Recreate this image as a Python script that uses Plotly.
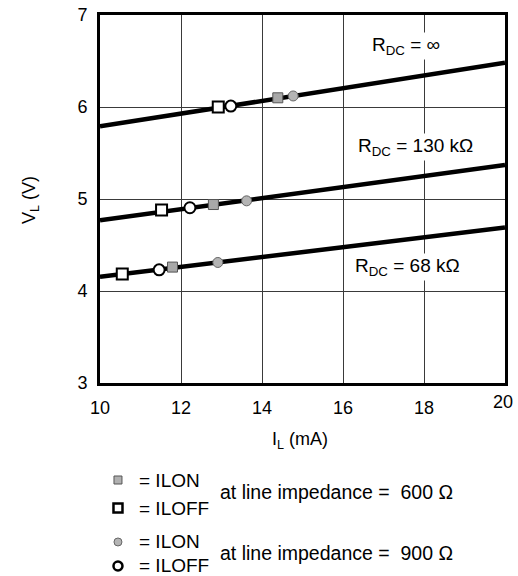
import plotly.graph_objects as go

FONT = "Arial, Liberation Sans, Helvetica, sans-serif"

# Load lines (V_L vs I_L), endpoints at I = 10 and 20 mA
line_x = [10, 20]
line_inf = [5.79, 6.48]
line_130k = [4.77, 5.37]
line_68k = [4.155, 4.69]

# Markers: ILON / ILOFF at 600 ohm (squares) and 900 ohm (circles)
inf_ilon600 = ([14.39], [6.10])
inf_iloff600 = ([12.92], [6.00])
inf_ilon900 = ([14.77], [6.12])
inf_iloff900 = ([13.23], [6.01])

k130_ilon600 = ([12.80], [4.94])
k130_iloff600 = ([11.52], [4.88])
k130_ilon900 = ([13.62], [4.98])
k130_iloff900 = ([12.22], [4.905])

k68_ilon600 = ([11.79], [4.26])
k68_iloff600 = ([10.55], [4.185])
k68_ilon900 = ([12.91], [4.31])
k68_iloff900 = ([11.46], [4.23])

x_ticks = [10, 12, 14, 16, 18, 20]
x_ticktext = ["10", "12", "14", "16", "18", ""]   # "20" drawn slightly raised, as in the original
y_ticks = [3, 4, 5, 6, 7]

fig = go.Figure()

for ys in (line_inf, line_130k, line_68k):
    fig.add_trace(go.Scatter(x=line_x, y=ys, mode="lines",
                             line=dict(color="black", width=4.5), showlegend=False))

gray_sq = dict(symbol="square", size=10, color="#a8a8a8", line=dict(color="#555555", width=1))
white_sq = dict(symbol="square", size=11, color="white", line=dict(color="black", width=2))
gray_ci = dict(symbol="circle", size=10, color="#b4b4b4", line=dict(color="#666666", width=1))
white_ci = dict(symbol="circle", size=11, color="white", line=dict(color="black", width=2))

groups = [
    (inf_iloff600, white_sq), (inf_iloff900, white_ci), (inf_ilon600, gray_sq), (inf_ilon900, gray_ci),
    (k130_iloff600, white_sq), (k130_iloff900, white_ci), (k130_ilon600, gray_sq), (k130_ilon900, gray_ci),
    (k68_iloff600, white_sq), (k68_iloff900, white_ci), (k68_ilon600, gray_sq), (k68_ilon900, gray_ci),
]
for (xs, ys), mk in groups:
    fig.add_trace(go.Scatter(x=xs, y=ys, mode="markers", marker=mk, showlegend=False))

annotations = [
    dict(x=17.55, y=6.66, xref="x", yref="y", text="R<sub>DC</sub> = ∞", showarrow=False,
         font=dict(size=19, family=FONT, color="black"), bgcolor="white"),
    dict(x=17.8, y=5.56, xref="x", yref="y", text="R<sub>DC</sub> = 130 kΩ", showarrow=False,
         font=dict(size=19, family=FONT, color="black"), bgcolor="white"),
    dict(x=17.6, y=4.26, xref="x", yref="y", text="R<sub>DC</sub> = 68 kΩ", showarrow=False,
         font=dict(size=19, family=FONT, color="black"), bgcolor="white"),
    dict(x=-0.173, y=0.497, xref="paper", yref="paper", text="V<sub>L</sub> (V)", showarrow=False,
         textangle=-90, xanchor="center", yanchor="middle",
         font=dict(size=18, family=FONT, color="black")),
    dict(x=0.494, y=-0.155, xref="paper", yref="paper", text="I<sub>L</sub> (mA)", showarrow=False,
         xanchor="center", yanchor="middle", font=dict(size=18, family=FONT, color="black")),
    dict(x=x_ticks[-1], y=y_ticks[0], xref="x", yref="y", text=str(x_ticks[-1]), showarrow=False,
         xanchor="center", yanchor="middle", xshift=-2, yshift=-19,
         font=dict(size=18, family=FONT, color="black")),
]

def txt(x, y, s, size=19, anchor="left"):
    annotations.append(dict(x=x, y=y, xref="paper", yref="paper", text=s, showarrow=False,
                            xanchor=anchor, yanchor="middle",
                            font=dict(size=size, family=FONT, color="black")))

txt(0.0914, -0.2636, "= ILON")
txt(0.0914, -0.3397, "= ILOFF")
txt(0.291, -0.2962, "at line impedance =  600 Ω", 19.5)
txt(0.0914, -0.432, "= ILON")
txt(0.0914, -0.4946, "= ILOFF")
txt(0.291, -0.462, "at line impedance =  900 Ω", 19.5)

shapes = []
def mshape(kind, yp, size, fill, lc, lw):
    h = size / 2
    shapes.append(dict(type=kind, xref="paper", yref="paper", xsizemode="pixel", ysizemode="pixel",
                       xanchor=0.0444, yanchor=yp, x0=-h, x1=h, y0=-h, y1=h,
                       fillcolor=fill, line=dict(color=lc, width=lw)))

mshape("rect", -0.2636, 8, "#b0b0b0", "#555555", 1)
mshape("rect", -0.3397, 9, "white", "black", 2.5)
mshape("circle", -0.432, 8, "#b4b4b4", "#666666", 1)
mshape("circle", -0.4973, 9, "white", "black", 2.5)

fig.update_layout(
    width=518, height=576,
    margin=dict(l=100, r=13, t=15, b=193, autoexpand=False),
    paper_bgcolor="white", plot_bgcolor="white",
    font=dict(family=FONT, size=18, color="black"),
    annotations=annotations, shapes=shapes,
    showlegend=False,
)
fig.update_xaxes(range=[10, 20], tickvals=x_ticks, ticktext=x_ticktext, showgrid=True,
                 gridcolor="#3a3a3a", gridwidth=1,
                 showline=True, linecolor="black", linewidth=3, mirror=True, ticks="",
                 ticklabelstandoff=6, ticklabeloverflow="allow", zeroline=False,
                 automargin=False, tickfont=dict(size=18))
fig.update_yaxes(range=[3, 7], tickvals=y_ticks, showgrid=True, gridcolor="#3a3a3a", gridwidth=1,
                 showline=True, linecolor="black", linewidth=3, mirror=True, ticks="",
                 ticklabelstandoff=6, ticklabeloverflow="allow", zeroline=False,
                 automargin=False, tickfont=dict(size=18))

fig.write_html(
    "out.html",
    config={"displayModeBar": False},
    post_script="document.body.style.margin='0';document.documentElement.style.overflow='hidden';",
)
